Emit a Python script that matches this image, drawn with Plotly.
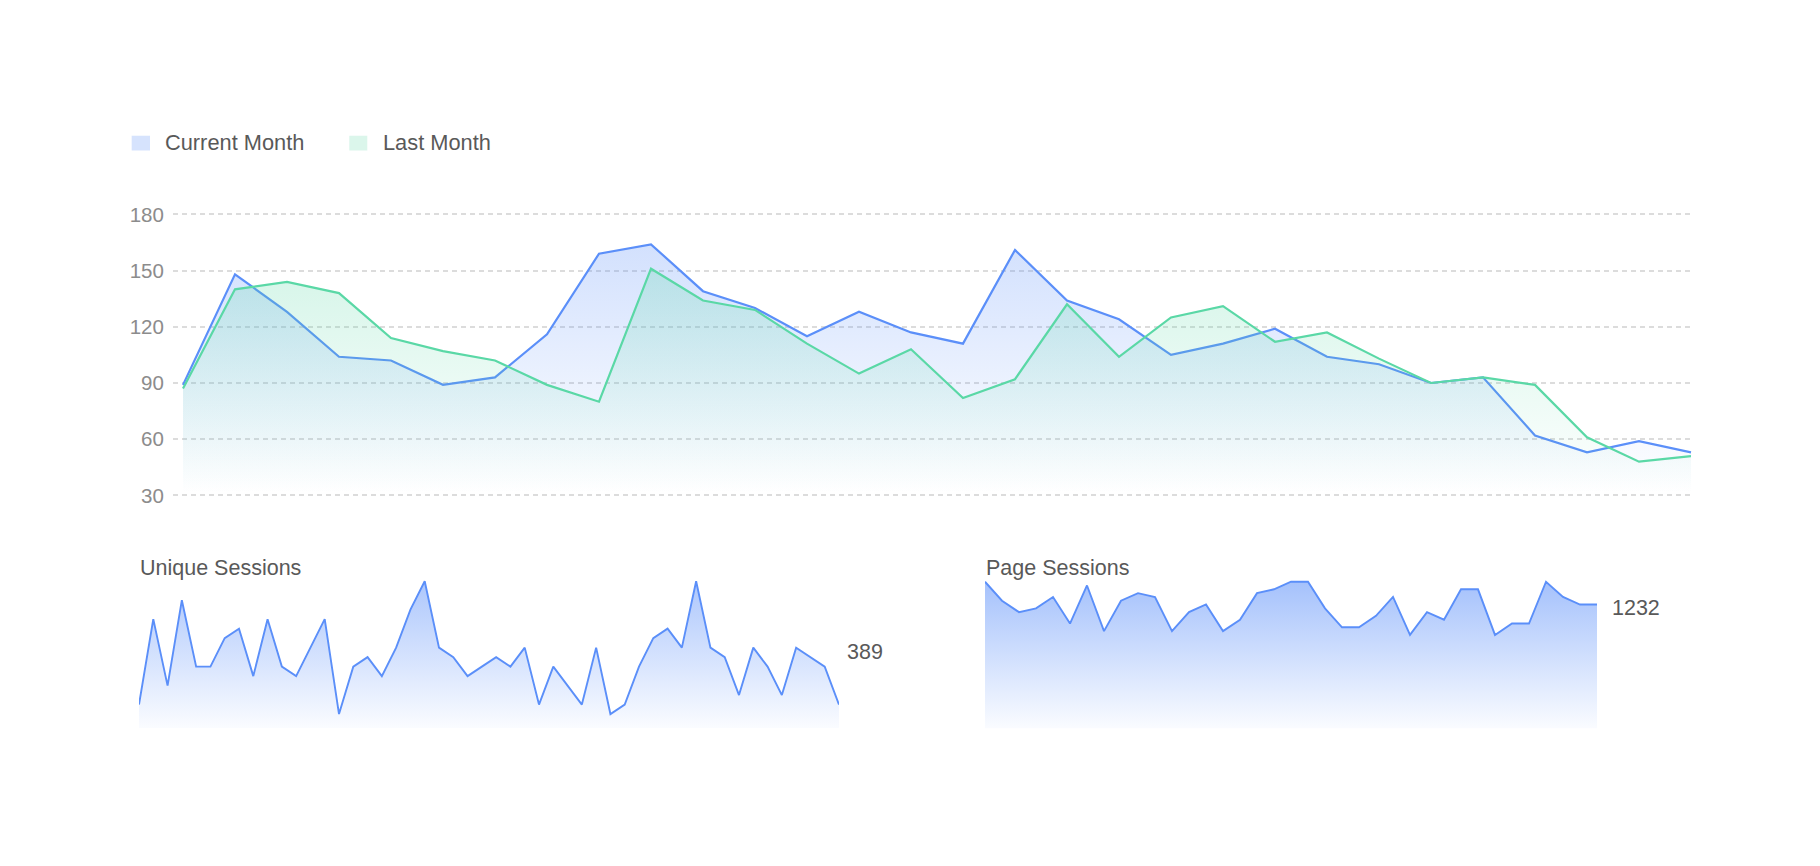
import plotly.graph_objects as go

# ---------------- data ----------------
current_month = [89, 148, 128, 104, 102, 89, 93, 116, 159, 164,
                 139, 130, 115, 128, 117, 111, 161, 134, 124, 105,
                 111, 119, 104, 100, 90, 93, 62, 53, 59, 53]
last_month = [87, 140, 144, 138, 114, 107, 102, 89, 80, 151,
              134, 129, 111, 95, 108, 82, 92, 132, 104, 125,
              131, 112, 117, 103, 90, 93, 89, 61, 48, 51]
y_ticks = [30, 60, 90, 120, 150, 180]

unique_sessions = [5, 23, 9, 27, 13, 13, 19, 21, 11, 23,
                   13, 11, 17, 23, 3, 13, 15, 11, 17, 25,
                   31, 17, 15, 11, 13, 15, 13, 17, 5, 13,
                   9, 5, 17, 3, 5, 13, 19, 21, 17, 31,
                   17, 15, 7, 17, 13, 7, 17, 15, 13, 5]
unique_total = "389"

page_sessions = [1458, 1270, 1156, 1194, 1307, 1043, 1421, 968, 1270, 1345,
                 1307, 968, 1156, 1232, 968, 1081, 1345, 1383, 1458, 1458,
                 1194, 1006, 1006, 1119, 1307, 930, 1156, 1081, 1383, 1383,
                 930, 1043, 1043, 1458, 1307, 1232, 1232]
page_last = "1232"

series_names = ["Current Month", "Last Month"]
spark_titles = ["Unique Sessions", "Page Sessions"]

# ---------------- style ----------------
W, H = 1820, 866
BLUE = "#5B8FF9"
GREEN = "#5AD8A6"
FONT = "Liberation Sans, Arial, sans-serif"
TEXT = "#595959"
TICK = "#8C8C8C"


def px(x):
    return x / W


def py(y):
    return 1 - y / H


fig = go.Figure()

xs_main = list(range(len(current_month)))
fig.add_trace(go.Scatter(
    x=xs_main, y=current_month, name=series_names[0], mode="lines",
    line=dict(color=BLUE, width=2.2), fill="tozeroy",
    fillgradient=dict(type="vertical", start=34, stop=max(current_month),
                      colorscale=[[0, "rgba(91,143,249,0)"], [1, "rgba(91,143,249,0.27)"]]),
    xaxis="x", yaxis="y", showlegend=False, hoverinfo="x+y"))
fig.add_trace(go.Scatter(
    x=xs_main, y=last_month, name=series_names[1], mode="lines",
    line=dict(color=GREEN, width=2.2), fill="tozeroy",
    fillgradient=dict(type="vertical", start=34, stop=max(last_month),
                      colorscale=[[0, "rgba(90,216,166,0)"], [1, "rgba(90,216,166,0.25)"]]),
    xaxis="x", yaxis="y", showlegend=False, hoverinfo="x+y"))

xs_u = list(range(len(unique_sessions)))
fig.add_trace(go.Scatter(
    x=xs_u, y=unique_sessions, name=spark_titles[0], mode="lines",
    line=dict(color=BLUE, width=1.9), fill="tozeroy",
    fillgradient=dict(type="vertical", start=0, stop=max(unique_sessions),
                      colorscale=[[0, "rgba(91,143,249,0.02)"], [1, "rgba(91,143,249,0.5)"]]),
    xaxis="x2", yaxis="y2", showlegend=False))

xs_p = list(range(len(page_sessions)))
fig.add_trace(go.Scatter(
    x=xs_p, y=page_sessions, name=spark_titles[1], mode="lines",
    line=dict(color=BLUE, width=1.9), fill="tozeroy",
    fillgradient=dict(type="vertical", start=0, stop=max(page_sessions),
                      colorscale=[[0, "rgba(91,143,249,0.02)"], [1, "rgba(91,143,249,0.55)"]]),
    xaxis="x3", yaxis="y3", showlegend=False))

hidden = dict(showgrid=False, zeroline=False, showticklabels=False, showline=False, ticks="")

fig.update_layout(
    width=W, height=H, autosize=False,
    margin=dict(l=0, r=0, t=0, b=0, pad=0),
    paper_bgcolor="white", plot_bgcolor="white",
    font=dict(family=FONT, color=TEXT),
    xaxis=dict(domain=[px(173), px(1692)], range=[-10 / 52, 29 + 1 / 52], **hidden),
    yaxis=dict(domain=[py(499.8), py(206.2)], range=[28, 182], tickvals=y_ticks,
               showgrid=True, gridcolor="#DCDCDC", gridwidth=1.5, griddash="5px,4px",
               zeroline=False, showline=False, ticks="outside", ticklen=4,
               tickcolor="rgba(0,0,0,0)", tickfont=dict(size=20.5, color=TICK, family=FONT)),
    xaxis2=dict(domain=[px(139), px(839)], range=[0, len(unique_sessions) - 1], anchor="y2", **hidden),
    yaxis2=dict(domain=[py(733), py(580.9)], range=[0, 31.5], anchor="x2", **hidden),
    xaxis3=dict(domain=[px(985), px(1597)], range=[0, len(page_sessions) - 1], anchor="y3", **hidden),
    yaxis3=dict(domain=[py(733.3), py(581.6)], range=[0, 1480], anchor="x3", **hidden),
)

# custom legend
fig.add_shape(type="rect", xref="paper", yref="paper",
              x0=px(131.7), x1=px(150), y0=py(145), y1=py(130),
              fillcolor="rgba(91,143,249,0.25)", line=dict(width=0))
fig.add_shape(type="rect", xref="paper", yref="paper",
              x0=px(349.3), x1=px(367.3), y0=py(145), y1=py(130),
              fillcolor="rgba(90,216,166,0.22)", line=dict(width=0))

ann = [
    (series_names[0], 163, 136.5, 21.8),
    (series_names[1], 381, 136.5, 21.8),
    (spark_titles[0], 137.5, 569.5, 21.5),
    (spark_titles[1], 983.5, 569.5, 21.5),
    (unique_total, 845, 655.5, 21.5),
    (page_last, 1610, 610.5, 21.5),
]
for text, x, y, size in ann:
    fig.add_annotation(text=text, xref="paper", yref="paper", x=px(x), y=py(y),
                       xanchor="left", yanchor="middle", showarrow=False,
                       font=dict(size=size, color=TEXT, family=FONT))

# the page's default 8px body margin would shift the figure; remove it
fig.write_html(
    "out.html",
    post_script="document.documentElement.style.margin='0';"
                "document.documentElement.style.overflow='hidden';"
                "document.body.style.margin='0';"
                "document.body.style.overflow='hidden';",
)
